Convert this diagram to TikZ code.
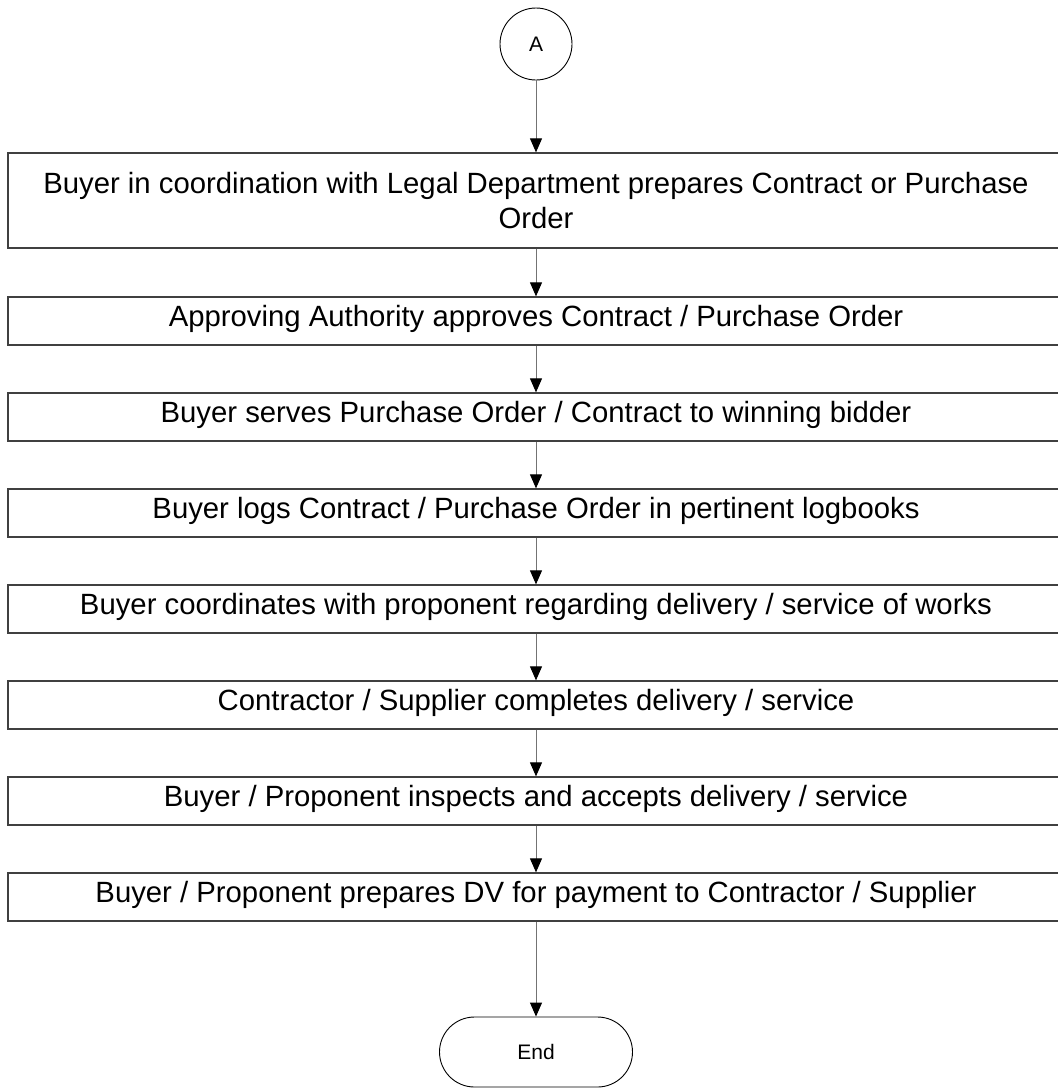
\documentclass[tikz,border=0pt]{standalone}
\usepackage{fontspec}
\setmainfont{Liberation Sans}
\usetikzlibrary{arrows.meta,shapes.misc}
\begin{document}
\begin{tikzpicture}[x=1pt,y=-1pt,
  stepbox/.style={draw=black!75,line width=1.3pt,rectangle,minimum width=1056pt,minimum height=48pt,
    inner sep=0pt,text height=20pt,text depth=9pt,font=\fontsize{29.3}{34.5}\selectfont},
  bigbox/.style={stepbox,minimum height=95pt,align=center,text height=,text depth=},
  conn/.style={draw=black!55,line width=1pt,-{Triangle[length=14pt,width=12pt,color=black]}},
  circ/.style={draw=black,line width=0.9pt,circle,minimum size=72pt,inner sep=0pt,font=\fontsize{21}{25}\selectfont},
  term/.style={draw=black,line width=0.9pt,rounded rectangle,minimum width=193pt,minimum height=70pt,inner sep=0pt,font=\fontsize{21}{25}\selectfont}
]
\useasboundingbox (0,0) rectangle (1058,1088);
\fill[white] (0,0) rectangle (1058,1088);
\begin{scope}
\clip (0,0) rectangle (1058,1088);
\node[circ] (a) at (536,44) {A};
\node[bigbox] (b1) at (536,200.5) {Buyer in coordination with Legal Department prepares Contract or Purchase\\Order};
\node[stepbox] (b2) at (536,321) {Approving Authority approves Contract / Purchase Order};
\node[stepbox] (b3) at (536,417) {Buyer serves Purchase Order / Contract to winning bidder};
\node[stepbox] (b4) at (536,513) {Buyer logs Contract / Purchase Order in pertinent logbooks};
\node[stepbox] (b5) at (536,609) {Buyer coordinates with proponent regarding delivery / service of works};
\node[stepbox] (b6) at (536,705) {Contractor / Supplier completes delivery / service};
\node[stepbox] (b7) at (536,801) {Buyer / Proponent inspects and accepts delivery / service};
\node[stepbox] (b8) at (536,897) {Buyer / Proponent prepares DV for payment to Contractor / Supplier};
\node[term] (e) at (536,1052) {End};
\draw[conn] (a) -- (b1);
\draw[conn] (b1) -- (b2);
\draw[conn] (b2) -- (b3);
\draw[conn] (b3) -- (b4);
\draw[conn] (b4) -- (b5);
\draw[conn] (b5) -- (b6);
\draw[conn] (b6) -- (b7);
\draw[conn] (b7) -- (b8);
\draw[conn] (b8) -- (e);
\end{scope}
\end{tikzpicture}
\end{document}
